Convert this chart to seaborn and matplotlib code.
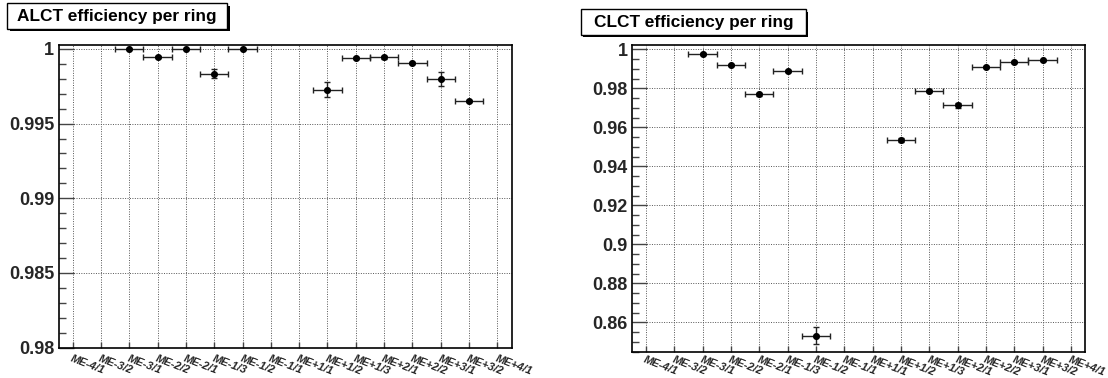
import numpy as np
import pandas as pd
import matplotlib
matplotlib.use("Agg")
import matplotlib.pyplot as plt
from matplotlib.patches import Rectangle
from matplotlib.ticker import MultipleLocator, FuncFormatter
import seaborn as sns

# Chamber rings, minus endcap to plus endcap
rings = ["ME-4/1", "ME-3/2", "ME-3/1", "ME-2/2", "ME-2/1", "ME-1/3", "ME-1/2", "ME-1/1",
         "ME+1/1", "ME+1/2", "ME+1/3", "ME+2/1", "ME+2/2", "ME+3/1", "ME+3/2", "ME+4/1"]

nan = np.nan
alct_eff = [nan, nan, 1.0000, 0.99944, 1.0000, 0.99835, 1.0000, nan,
            nan, 0.99726, 0.99940, 0.99944, 0.99906, 0.99797, 0.99650, nan]
alct_err = [nan, nan, 0.00002, 0.00006, 0.00002, 0.00028, 0.00002, nan,
            nan, 0.00050, 0.00005, 0.00010, 0.00006, 0.00048, 0.00005, nan]

clct_eff = [nan, nan, 0.99754, 0.99180, 0.97690, 0.98869, 0.85313, nan,
            nan, 0.95328, 0.97862, 0.97138, 0.99115, 0.99344, 0.99426, nan]
clct_err = [nan, nan, 0.0004, 0.0005, 0.0009, 0.0005, 0.0043, nan,
            nan, 0.0010, 0.0006, 0.0013, 0.0005, 0.0004, 0.0004, nan]

W, H = 1108, 378

sns.set_style("white")
plt.rcParams["font.family"] = ["Liberation Sans", "DejaVu Sans"]

fig = plt.figure(figsize=(W / 100, H / 100), dpi=100)
fig.patch.set_facecolor("white")


def px_axes(x0, y0, x1, y1):
    return fig.add_axes([x0 / W, 1 - y1 / H, (x1 - x0) / W, (y1 - y0) / H])


def title_box(x0, y0, x1, y1, text):
    sh = 2.5
    fig.add_artist(Rectangle(((x0 + sh) / W, 1 - (y1 + sh) / H), (x1 - x0) / W, (y1 - y0) / H,
                             transform=fig.transFigure, facecolor="black", edgecolor="none"))
    fig.add_artist(Rectangle((x0 / W, 1 - y1 / H), (x1 - x0) / W, (y1 - y0) / H,
                             transform=fig.transFigure, facecolor="white", edgecolor="black",
                             linewidth=1.0))
    fig.text((x0 + x1) / 2 / W, 1 - (y0 + y1) / 2 / H - 0.002, text, ha="center", va="center",
             fontsize=12.4, fontweight="bold", color="black")


def panel(ax, eff, err, ylim, major, minor, label_pad):
    df = pd.DataFrame({"ring": rings, "pos": np.arange(len(rings)),
                       "eff": eff, "err": err}).dropna()
    ax.errorbar(df["pos"], df["eff"], xerr=0.5, yerr=df["err"], fmt="none",
                ecolor="#222222", elinewidth=1.0, capsize=2, capthick=1.0, zorder=3)
    sns.scatterplot(data=df, x="pos", y="eff", ax=ax, color="black", s=26,
                    edgecolor="black", linewidth=0, zorder=4, legend=False)
    ax.set_xlim(-0.5, 15.5)
    ax.set_ylim(*ylim)
    ax.set_xlabel("")
    ax.set_ylabel("")

    ax.set_xticks(range(len(rings)))
    ax.set_xticklabels(rings, rotation=-21, ha="left", va="top", rotation_mode="anchor",
                       fontsize=8, fontweight="bold", fontstyle="italic")
    ax.yaxis.set_major_locator(MultipleLocator(major))
    ax.yaxis.set_minor_locator(MultipleLocator(minor))
    ax.yaxis.set_major_formatter(FuncFormatter(lambda v, p: f"{v:g}"))
    for lab in ax.get_yticklabels():
        lab.set_fontweight("bold")
    ax.tick_params(axis="y", which="major", direction="in", length=11, width=1.0,
                   labelsize=13, pad=3, left=True, right=False, color="#444444")
    ax.tick_params(axis="y", which="minor", direction="in", length=5, width=1.0,
                   left=True, right=False, color="#444444")
    ax.tick_params(axis="x", which="major", direction="in", length=4.5, width=1.0,
                   pad=label_pad, bottom=True, top=False, color="#444444")
    ax.tick_params(axis="x", which="minor", bottom=False, top=False)

    ax.grid(True, which="major", axis="both", color="#555555", linestyle=(0, (1, 1.5)),
            linewidth=0.7)
    for s in ax.spines.values():
        s.set_visible(True)
        s.set_color("black")
        s.set_linewidth(1.2)


ax1 = px_axes(58.5, 45, 511.5, 347.7)
panel(ax1, alct_eff, alct_err, (0.98, 1.00026), 0.005, 0.001, 4)

ax2 = px_axes(631.8, 45, 1085, 352.3)
panel(ax2, clct_eff, clct_err, (0.8446, 1.0022), 0.02, 0.005, 1.5)

title_box(7.3, 3.3, 227.0, 28.5, "ALCT efficiency per ring")
title_box(580.7, 9.3, 806.0, 34.5, "CLCT efficiency per ring")

fig.savefig("out.png", dpi=100, facecolor="white")
